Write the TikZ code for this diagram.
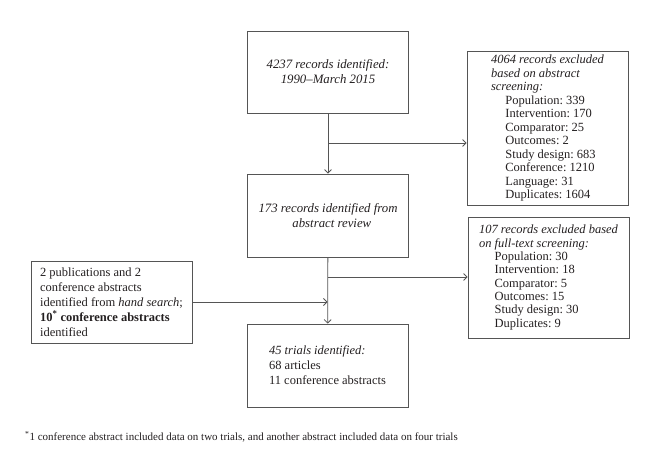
\documentclass[tikz,border=0pt]{standalone}
\usepackage{fontspec}
\setmainfont{Liberation Serif}
\frenchspacing
\usetikzlibrary{positioning, arrows.meta}
\definecolor{linegray}{HTML}{555555}
\definecolor{ink}{HTML}{231F20}

\begin{document}
\begin{tikzpicture}[
        x=1pt, y=-1pt,
        box/.style={rectangle, draw=linegray, line width=0.8pt, text=ink, minimum width=161pt, minimum height=82pt},
        listbox/.style={box, align=left, font=\fontsize{12.5}{13.5}\selectfont},
        arrow/.style={draw=linegray, line width=0.8pt, -{Straight Barb[length=3.5pt, width=7pt]}},
    ]
        \useasboundingbox (0,0) rectangle (660,473);

        \node[box, align=center, font=\fontsize{12.8}{15}\selectfont\itshape] (found) at (328,72) {4237 records identified:\\1990--March 2015};
        \node[box, align=center, font=\fontsize{12.8}{14.5}\selectfont\itshape, minimum height=83pt] (review) at (328,215.5) {173 records identified from\\\hspace*{0.6em}abstract review};
        \node[listbox, minimum height=154pt] (absexcl) at (547.5,128) {\textit{4064 records excluded}\\\textit{based on abstract}\\\textit{screening:}\\
            \hspace*{1.15em}Population: 339\\\hspace*{1.15em}Intervention: 170\\\hspace*{1.15em}Comparator: 25\\\hspace*{1.15em}Outcomes: 2\\
            \hspace*{1.15em}Study design: 683\\\hspace*{1.15em}Conference: 1210\\\hspace*{1.15em}Language: 31\\\hspace*{1.15em}Duplicates: 1604};
        \node[listbox, font=\fontsize{12.5}{13.3}\selectfont, minimum height=121pt] (fullexcl) at (548.5,277.5) {\textit{107 records excluded based}\\\textit{on full-text screening:}\\
            \hspace*{1.25em}Population: 30\\\hspace*{1.25em}Intervention: 18\\\hspace*{1.25em}Comparator: 5\\\hspace*{1.25em}Outcomes: 15\\
            \hspace*{1.25em}Study design: 30\\\hspace*{1.25em}Duplicates: 9};
        \node[listbox, font=\fontsize{12.5}{15}\selectfont] (hand) at (111.5,302) {2 publications and 2\\conference abstracts\\identified from \textit{hand search};\\
            \textbf{10\textsuperscript{*} conference abstracts}\\identified};
        \node[listbox, font=\fontsize{12.5}{15}\selectfont, minimum height=83pt] (trials) at (327.5,365.5) {\textit{45 trials identified:}\\68 articles\\11 conference abstracts};

        \coordinate (split1) at (328,143);
        \coordinate (split2) at (328,277);

        \draw[arrow] (found) -- (review);
        \draw[arrow] (split1) -- (split1 -| absexcl.west);
        \draw[arrow] (review) -- (trials);
        \draw[arrow] (split2) -- (split2 -| fullexcl.west);
        \draw[arrow] (hand.east) -- (hand.east -| trials.north);

        \node[anchor=base west, text=ink, font=\fontsize{11}{13}\selectfont, inner sep=0pt] (note) at (25,440) {\textsuperscript{*}1 conference abstract included data on two trials, and another abstract included data on four trials};
    \end{tikzpicture}
\end{document}
